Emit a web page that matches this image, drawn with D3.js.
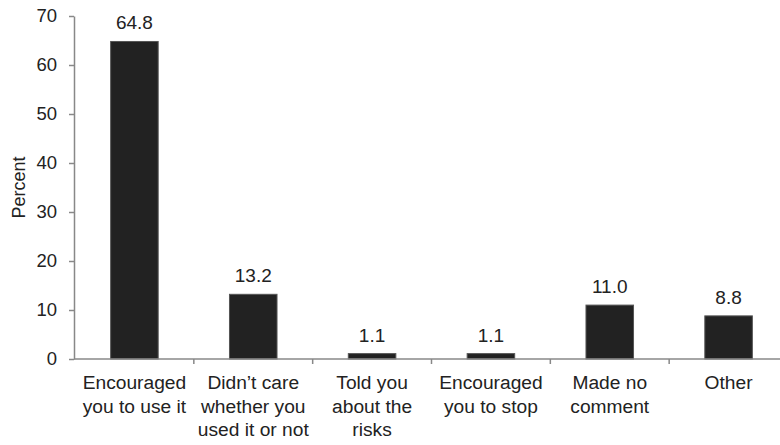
<!DOCTYPE html>
<html>

<head>
    <meta charset="UTF-8">
    <style>
        body { margin: 0; background: #fff; }
        svg text { font-family: "Liberation Sans", Arial, sans-serif; fill: #222; }
    </style>
</head>

<body>
    <svg></svg>
    <script src="https://d3js.org/d3.v7.min.js"></script>

    <script>

        let width = 780, height = 445;

        // data
        const categories = ["enc_use", "no_care", "risks", "enc_stop", "no_comment", "other"];
        const catLabels = [
            ["Encouraged", "you to use it"],
            ["Didn\u2019t care", "whether you", "used it or not"],
            ["Told you", "about the", "risks"],
            ["Encouraged", "you to stop"],
            ["Made no", "comment"],
            ["Other"]
        ];
        const percents = [64.8, 13.2, 1.1, 1.1, 11.0, 8.8];
        const yTicks = [0, 10, 20, 30, 40, 50, 60, 70];

        let svg = d3.select("svg")
            .attr("width", width)
            .attr("height", height);

        const x = d3.scaleBand()
            .domain(categories)
            .range([75, 788])
            .paddingInner(0.6)
            .paddingOuter(0.3);

        const y = d3.scaleLinear()
            .domain([0, 70])
            .range([359, 16]);

        // y axis
        let yAxis = svg.append("g")
            .attr("transform", "translate(74,0)")
            .call(d3.axisLeft(y).tickValues(yTicks).tickSize(5).tickSizeOuter(0).tickPadding(12));
        yAxis.select(".domain").attr("stroke", "#888").attr("stroke-width", 1.5);
        yAxis.selectAll(".tick line").attr("stroke", "#888").attr("stroke-width", 1.5);
        yAxis.selectAll(".tick text")
            .style("font-size", "18.5px")
            .attr("fill", "#222");

        svg.append("text")
            .attr("transform", "translate(25," + y(35) + ") rotate(-90)")
            .attr("text-anchor", "middle")
            .style("font-size", "18px")
            .text("Percent");

        // bars
        svg.append("g")
            .selectAll("rect")
            .data(percents)
            .enter()
            .append("rect")
            .attr("x", (d, i) => x(categories[i]))
            .attr("width", x.bandwidth())
            .attr("y", d => y(d))
            .attr("height", d => y(0) - y(d))
            .attr("fill", "#222")
            .attr("stroke", "#555")
            .attr("stroke-width", 1);

        // value labels
        svg.append("g")
            .selectAll("text")
            .data(percents)
            .enter()
            .append("text")
            .attr("x", (d, i) => x(categories[i]) + x.bandwidth() / 2)
            .attr("y", d => y(d) - 12)
            .attr("text-anchor", "middle")
            .style("font-size", "19px")
            .text(d => d.toFixed(1));

        // x axis: line with ticks at category boundaries
        let xg = svg.append("g");
        xg.append("line")
            .attr("x1", 74).attr("x2", x.range()[1])
            .attr("y1", y(0)).attr("y2", y(0))
            .attr("stroke", "#888").attr("stroke-width", 1.5);
        let bounds = categories.slice(1).map(c => x(c) - x.step() * 0.3);
        xg.selectAll(".bt")
            .data(bounds)
            .enter()
            .append("line")
            .attr("x1", d => d).attr("x2", d => d)
            .attr("y1", y(0)).attr("y2", y(0) + 5)
            .attr("stroke", "#888").attr("stroke-width", 1.5);

        let labels = xg.selectAll(".cl")
            .data(categories)
            .enter()
            .append("text")
            .attr("text-anchor", "middle")
            .style("font-size", "19.2px");
        labels.each(function (c, i) {
            let t = d3.select(this);
            catLabels[i].forEach((line, k) => {
                t.append("tspan")
                    .attr("x", x(c) + x.bandwidth() / 2)
                    .attr("y", 389 + k * 23.5)
                    .text(line);
            });
        });

    </script>

</body>

</html>
